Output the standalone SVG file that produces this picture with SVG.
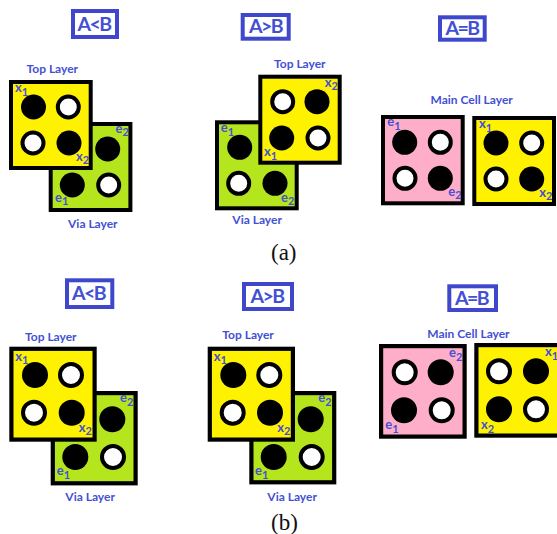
<svg xmlns="http://www.w3.org/2000/svg" width="557" height="534" viewBox="0 0 557 534">
<style>
.bg{fill:#fff}
.sq{stroke:#000;stroke-width:4}
.sb{stroke:#000;stroke-width:4.2}
.y{fill:#FFF200}.g{fill:#B5E61D}.p{fill:#FFAEC9}
.k{fill:#000}
.w{fill:#fff;stroke:#000;stroke-width:4}
.badge{fill:#fff;stroke:#3F48CC;stroke-width:4}
text{font-family:"Lato","Open Sans","Liberation Sans",sans-serif;font-weight:700;fill:#4450D4}
.t{font-size:19.5px;letter-spacing:-1.6px}
.l{font-size:12px}
.m{font-size:13px}
.s{font-size:11px}
.cap{font-family:"Liberation Serif","Times New Roman",serif;font-weight:400;font-size:23px;fill:#111}
</style>
<rect class="bg" width="557" height="534"/>
<g id="a-lt">
<g id="a-lt-badge"><rect class="badge" x="73" y="11" width="44" height="26"/><text class="t" x="77.5" y="30.5">A&lt;B</text></g>
<text class="l" x="26.5" y="72.5">Top Layer</text>
<g id="a-lt-via"><rect class="sq g" x="50.7" y="124" width="79.7" height="86"/>
<circle class="k" cx="107.7" cy="149" r="12.5"/><circle class="k" cx="72.3" cy="185" r="12.5"/><circle class="w" cx="108.7" cy="185" r="10.5"/>
<text class="m" x="115.5" y="132.5">e<tspan class="s" dy="3.5">2</tspan></text><text class="m" x="55" y="201.5">e<tspan class="s" dy="3.5">1</tspan></text></g>
<g id="a-lt-top"><rect class="sq y" x="11" y="82" width="79.7" height="86"/>
<circle class="k" cx="33.5" cy="107" r="12.5"/><circle class="w" cx="68.3" cy="107" r="10.5"/><circle class="w" cx="33" cy="143" r="10.5"/><circle class="k" cx="69" cy="143" r="12.5"/>
<text class="m" x="15" y="92">x<tspan class="s" dy="3.5">1</tspan></text><text class="m" x="76" y="160.5">x<tspan class="s" dy="3.5">2</tspan></text></g>
<text class="l" x="68" y="228">Via Layer</text>
</g>
<g id="a-gt">
<g id="a-gt-badge"><rect class="badge" x="242.7" y="15" width="46" height="23.7"/><text class="t" x="249" y="32.5">A&gt;B</text></g>
<text class="l" x="274" y="67.5">Top Layer</text>
<g id="a-gt-via"><rect class="sq g" x="217" y="122.3" width="79.7" height="86"/>
<circle class="k" cx="239.7" cy="147.3" r="12.5"/><circle class="w" cx="238.7" cy="183.3" r="10.5"/><circle class="k" cx="275" cy="183.3" r="12.5"/>
<text class="m" x="220.7" y="132">e<tspan class="s" dy="3.5">1</tspan></text><text class="m" x="281" y="201.5">e<tspan class="s" dy="3.5">2</tspan></text></g>
<g id="a-gt-top"><rect class="sq y" x="260.3" y="76.7" width="79.4" height="86"/>
<circle class="w" cx="282.7" cy="101.7" r="10.5"/><circle class="k" cx="317" cy="101.7" r="12.5"/><circle class="k" cx="281.7" cy="138" r="12.5"/><circle class="w" cx="318" cy="138" r="10.5"/>
<text class="m" x="324.7" y="86.5">x<tspan class="s" dy="3.5">2</tspan></text><text class="m" x="264" y="156">x<tspan class="s" dy="3.5">1</tspan></text></g>
<text class="l" x="232.3" y="224.3">Via Layer</text>
</g>
<g id="a-eq">
<g id="a-eq-badge"><rect class="badge" x="440" y="17.3" width="44.7" height="22.4"/><text class="t" x="445.5" y="34.5">A=B</text></g>
<text class="l" x="430.5" y="104.3">Main Cell Layer</text>
<g id="a-eq-main"><rect class="sq p" x="383" y="117" width="79.7" height="86.3"/>
<circle class="k" cx="404.7" cy="142.3" r="12.5"/><circle class="w" cx="440.3" cy="142.3" r="10.5"/><circle class="w" cx="405" cy="178.3" r="10.5"/><circle class="k" cx="440.3" cy="178.3" r="12.5"/>
<text class="m" x="387.3" y="126">e<tspan class="s" dy="3.5">1</tspan></text><text class="m" x="448.3" y="195.5">e<tspan class="s" dy="3.5">2</tspan></text></g>
<g id="a-eq-top"><rect class="sq y" x="474.3" y="118" width="79.7" height="86"/>
<circle class="k" cx="496" cy="143" r="12.5"/><circle class="w" cx="531.7" cy="143" r="10.5"/><circle class="w" cx="496" cy="179" r="10.5"/><circle class="k" cx="531.7" cy="179" r="12.5"/>
<text class="m" x="479" y="128.3">x<tspan class="s" dy="3.5">1</tspan></text><text class="m" x="539.3" y="196.5">x<tspan class="s" dy="3.5">2</tspan></text></g>
</g>
<text class="cap" x="271" y="260">(a)</text>
<g id="b-lt">
<g id="b-lt-badge"><rect class="badge" x="67" y="280.3" width="45.3" height="26.7"/><text class="t" x="72" y="300">A&lt;B</text></g>
<text class="l" x="25" y="341.3">Top Layer</text>
<g id="b-lt-via"><rect class="sb g" x="52.8" y="393.1" width="82.8" height="90.2"/>
<circle class="k" cx="112.3" cy="419.3" r="13"/><circle class="k" cx="75.3" cy="457" r="13"/><circle class="w" cx="113" cy="457" r="11"/>
<text class="m" x="120" y="402.3">e<tspan class="s" dy="3.5">2</tspan></text><text class="m" x="56.7" y="475">e<tspan class="s" dy="3.5">1</tspan></text></g>
<g id="b-lt-top"><rect class="sb y" x="11.4" y="348.8" width="83.2" height="90.8"/>
<circle class="k" cx="35" cy="375" r="13"/><circle class="w" cx="71" cy="375" r="11"/><circle class="w" cx="34" cy="412.7" r="11"/><circle class="k" cx="71.7" cy="412.7" r="13"/>
<text class="m" x="15.3" y="360.7">x<tspan class="s" dy="3.5">1</tspan></text><text class="m" x="78.7" y="431.5">x<tspan class="s" dy="3.5">2</tspan></text></g>
<text class="l" x="65.3" y="500.7">Via Layer</text>
</g>
<g id="b-gt">
<g id="b-gt-badge"><rect class="badge" x="244" y="284" width="48" height="25"/><text class="t" x="250.5" y="303.3">A&gt;B</text></g>
<text class="l" x="222.3" y="339.3">Top Layer</text>
<g id="b-gt-via"><rect class="sb g" x="251.4" y="393.1" width="82.8" height="89.2"/>
<circle class="k" cx="310.7" cy="419.3" r="13"/><circle class="k" cx="273.7" cy="457" r="13"/><circle class="w" cx="311.7" cy="457" r="11"/>
<text class="m" x="318.3" y="402.3">e<tspan class="s" dy="3.5">2</tspan></text><text class="m" x="255" y="475">e<tspan class="s" dy="3.5">1</tspan></text></g>
<g id="b-gt-top"><rect class="sb y" x="209.8" y="348.8" width="83.1" height="90.8"/>
<circle class="k" cx="233.3" cy="375" r="13"/><circle class="w" cx="269.3" cy="375" r="11"/><circle class="w" cx="232.7" cy="412.7" r="11"/><circle class="k" cx="270" cy="412.7" r="13"/>
<text class="m" x="213.7" y="360.7">x<tspan class="s" dy="3.5">1</tspan></text><text class="m" x="277.3" y="431.5">x<tspan class="s" dy="3.5">2</tspan></text></g>
<text class="l" x="267.3" y="500.7">Via Layer</text>
</g>
<g id="b-eq">
<g id="b-eq-badge"><rect class="badge" x="449.3" y="286.3" width="46.7" height="23.7"/><text class="t" x="455" y="305">A=B</text></g>
<text class="l" x="427.3" y="337.7">Main Cell Layer</text>
<g id="b-eq-main"><rect class="sb p" x="381.1" y="346.1" width="83.5" height="90.5"/>
<circle class="w" cx="404.7" cy="372.3" r="11"/><circle class="k" cx="440.7" cy="372.3" r="13"/><circle class="k" cx="404" cy="410.3" r="13"/><circle class="w" cx="441.7" cy="410.3" r="11"/>
<text class="m" x="449" y="357.3">e<tspan class="s" dy="3.5">2</tspan></text><text class="m" x="385.3" y="429.3">e<tspan class="s" dy="3.5">1</tspan></text></g>
<g id="b-eq-top"><rect class="sb y" x="476.4" y="345.1" width="90" height="90.5"/>
<circle class="w" cx="499" cy="371.3" r="11"/><circle class="k" cx="536" cy="371.3" r="13"/><circle class="k" cx="499" cy="409.3" r="13"/><circle class="w" cx="536" cy="409.3" r="11"/>
<text class="m" x="545" y="356">x<tspan class="s" dy="3.5">1</tspan></text><text class="m" x="481" y="429">x<tspan class="s" dy="3.5">2</tspan></text></g>
</g>
<text class="cap" x="271" y="530">(b)</text>
</svg>
